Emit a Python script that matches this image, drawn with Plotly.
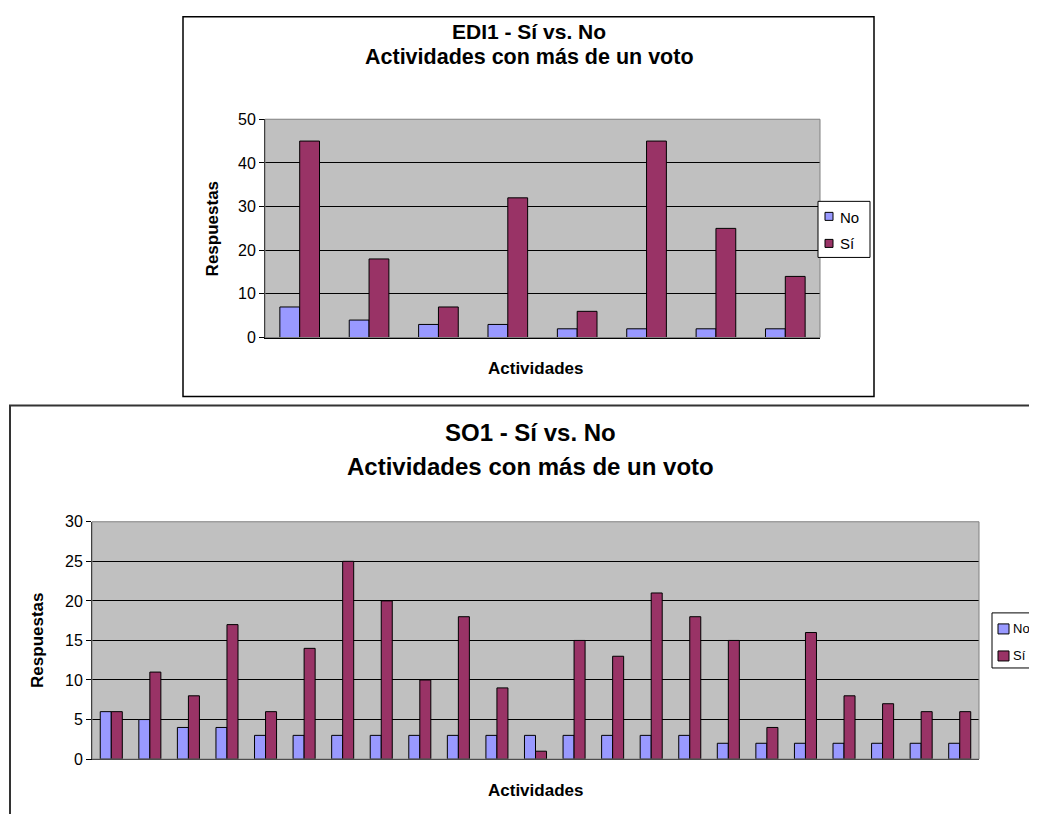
import plotly.graph_objects as go

# page is 1037x814; empirically the figure shows up at screen x = 8 + f,
# screen y = 15.9 + 0.978 * f  (f = pixel inside the figure)
W, H = 1021, 822
OX = 8
OY, SY = 15.9, 0.978

# ---- data: EDI1 ----
edi_categories = [f"Actividad {i}" for i in range(1, 9)]
edi_no = [7, 4, 3, 3, 2, 2, 2, 2]
edi_si = [45, 18, 7, 32, 6, 45, 25, 14]

# ---- data: SO1 ----
so_categories = [f"Actividad {i}" for i in range(1, 24)]
so_no = [6, 5, 4, 4, 3, 3, 3, 3, 3, 3, 3, 3, 3, 3, 3, 3, 2, 2, 2, 2, 2, 2, 2]
so_si = [6, 11, 8, 17, 6, 14, 25, 20, 10, 18, 9, 1, 15, 13, 21, 18, 15, 4, 16, 8, 7, 6, 6]

series_names = ["No", "Sí"]
colors = ["#9999FF", "#993366"]

FONT = "Liberation Sans, Arial, sans-serif"


def px(x):
    return (x - OX) / W


def py(y):
    f = (y - OY) / SY
    return 1 - f / H


fig = go.Figure()

for vals, name, col in zip([edi_no, edi_si], series_names, colors):
    fig.add_trace(go.Bar(x=edi_categories, y=vals, name=name,
                         marker=dict(color=col, line=dict(color="black", width=1)),
                         xaxis="x", yaxis="y", showlegend=False))
for vals, name, col in zip([so_no, so_si], series_names, colors):
    fig.add_trace(go.Bar(x=so_categories, y=vals, name=name,
                         marker=dict(color=col, line=dict(color="black", width=1)),
                         xaxis="x2", yaxis="y2", showlegend=False))

# plot areas (screen pixels)
t_l, t_r, t_t, t_b = 265, 820, 119, 337
b_l, b_r, b_t, b_b = 92, 979, 521, 758

axis_common = dict(showgrid=False, zeroline=False, showticklabels=False, ticks="",
                   showline=True, linecolor="black", linewidth=1, fixedrange=True)
yaxis_common = dict(showgrid=True, gridcolor="black", gridwidth=1, zeroline=False,
                    showline=True, linecolor="black", linewidth=1, ticks="outside", ticklen=5,
                    tickcolor="black", tickfont=dict(family=FONT, size=16, color="black"),
                    fixedrange=True)

fig.update_layout(
    width=W, height=H,
    margin=dict(l=0, r=0, t=0, b=0),
    paper_bgcolor="white",
    plot_bgcolor="#C0C0C0",
    barmode="group",
    bargap=0.4286,
    bargroupgap=0,
    showlegend=False,
    font=dict(family=FONT, color="black"),
    xaxis=dict(domain=[px(t_l), px(t_r)], anchor="y", **axis_common),
    yaxis=dict(domain=[py(t_b), py(t_t)], anchor="x", range=[0, 50], dtick=10, **yaxis_common),
    xaxis2=dict(domain=[px(b_l), px(b_r)], anchor="y2", **axis_common),
    yaxis2=dict(domain=[py(b_b), py(b_t)], anchor="x2", range=[0, 30], dtick=5, **yaxis_common),
)

shapes = []
# chart frames
top_frame_y = min(py(7), 1 - 0.8 / H)
shapes.append(dict(type="rect", xref="paper", yref="paper", x0=px(183), x1=px(874), y0=py(396), y1=top_frame_y,
                   line=dict(color="black", width=1.5), layer="below"))
shapes.append(dict(type="rect", xref="paper", yref="paper", x0=px(10), x1=px(1060), y0=py(900), y1=py(405),
                   line=dict(color="#333333", width=2), layer="below"))
# plot area borders (gray)
shapes.append(dict(type="rect", xref="paper", yref="paper", x0=px(t_l), x1=px(t_r), y0=py(t_b), y1=py(t_t),
                   line=dict(color="#808080", width=1)))
shapes.append(dict(type="rect", xref="paper", yref="paper", x0=px(b_l), x1=px(b_r), y0=py(b_b), y1=py(b_t),
                   line=dict(color="#808080", width=1)))


def legend(box, items, font_size):
    """box = (x0, y0, x1, y1); items = list of (square (x0,y0,x1,y1), text_x, text_y, color, label)."""
    x0, y0, x1, y1 = box
    shapes.append(dict(type="rect", xref="paper", yref="paper", x0=px(x0), x1=px(x1), y0=py(y1), y1=py(y0),
                       line=dict(color="black", width=1), fillcolor="white"))
    anns = []
    for (sq, tx, ty, col, lab) in items:
        shapes.append(dict(type="rect", xref="paper", yref="paper", x0=px(sq[0]), x1=px(sq[2]),
                           y0=py(sq[3]), y1=py(sq[1]), line=dict(color="black", width=1), fillcolor=col))
        anns.append(dict(text=lab, x=px(tx), y=py(ty), xanchor="left", yanchor="middle",
                         font=dict(size=font_size)))
    return anns


ann = [
    dict(text="<b>EDI1 - Sí vs. No</b>", x=px(529), y=py(31), font=dict(size=21)),
    dict(text="<b>Actividades con más de un voto</b>", x=px(529), y=py(57), font=dict(size=21.5)),
    dict(text="<b>Actividades</b>", x=px(535), y=py(368), font=dict(size=17)),
    dict(text="<b>Respuestas</b>", x=px(212), y=py(229), font=dict(size=17), textangle=-90),
    dict(text="<b>SO1 - Sí vs. No</b>", x=px(530), y=py(432), font=dict(size=24)),
    dict(text="<b>Actividades con más de un voto</b>", x=px(530), y=py(466), font=dict(size=24)),
    dict(text="<b>Actividades</b>", x=px(535), y=py(789), font=dict(size=17)),
    dict(text="<b>Respuestas</b>", x=px(38), y=py(640), font=dict(size=17), textangle=-90),
]
for a in ann:
    a.setdefault("xanchor", "center")
    a.setdefault("yanchor", "middle")

ann += legend((818, 201, 870, 257),
              [((825, 212, 833, 220), 838, 217, colors[0], series_names[0]),
               ((825, 239, 833, 247), 838, 243, colors[1], series_names[1])], 15)
ann += legend((992, 612, 1060, 667),
              [((998, 623, 1009, 633), 1011, 628, colors[0], series_names[0]),
               ((998, 650, 1009, 660), 1011, 655, colors[1], series_names[1])], 13)

for a in ann:
    a.update(xref="paper", yref="paper", showarrow=False)
    a["font"].update(family=FONT, color="black")

fig.update_layout(shapes=shapes, annotations=ann)

fig.write_html("out.html")
